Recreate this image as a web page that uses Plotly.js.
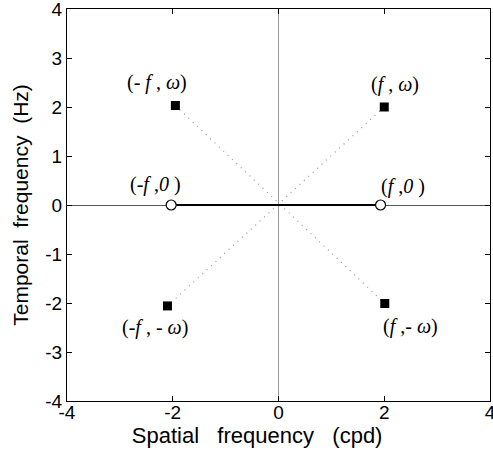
<!DOCTYPE html>
<html><head><meta charset="utf-8">
<script src="https://cdn.plot.ly/plotly-3.0.1.min.js"></script>
<style>body{margin:0;padding:0;background:#fff}#chart{width:493px;height:455px}</style>
</head><body><div id="chart"></div>
<script>
// Data
const squareX = [-1.95, 2.0, -2.1, 2.01];
const squareY = [2.03, 2.0, -2.06, -2.01];
const circleX = [-2.03, 1.93];
const circleY = [0, 0];
const diagA_X = [-1.95, 2.01];   // (-f,w) -> (f,-w)
const diagA_Y = [2.03, -2.01];
const diagB_X = [2.0, -2.1];     // (f,w) -> (-f,-w)
const diagB_Y = [2.0, -2.06];
const labelText = ['(- <i>f</i> , <i>ω</i>)', '(<i>f</i> , <i>ω</i>)', '(-<i>f</i> ,<i>0</i> )', '(<i>f</i> ,<i>0</i> )', '(-<i>f</i> , - <i>ω</i>)', '(<i>f</i> ,- <i>ω</i>)'];
const labelX = [-2.3, 2.2, -2.33, 2.35, -2.33, 2.5];
const labelY = [2.5, 2.46, 0.42, 0.38, -2.5, -2.48];
const xTicks = [-4, -2, 0, 2, 4];
const xTickText = ['-4', '-2', '0', '2', '4'];
const yTicks = [-4, -3, -2, -1, 0, 1, 2, 3, 4];
const yTickText = ['-4', '-3', '-2', '-1', '0', '1', '2', '3', '4'];

const traces = [
  {x: diagA_X, y: diagA_Y, mode: 'lines', line: {color: '#999', width: 1.2, dash: '1px,5px'}, hoverinfo: 'skip'},
  {x: diagB_X, y: diagB_Y, mode: 'lines', line: {color: '#999', width: 1.2, dash: '1px,5px'}, hoverinfo: 'skip'},
  {x: circleX, y: circleY, mode: 'lines', line: {color: '#000', width: 2.2}},
  {x: circleX, y: circleY, mode: 'markers', marker: {symbol: 'circle', size: 10, color: '#fff', line: {color: '#000', width: 1.2}}},
  {x: squareX, y: squareY, mode: 'markers', marker: {symbol: 'square', size: 9, color: '#000'}}
];

const annotations = labelText.map((t, i) => ({
  x: labelX[i], y: labelY[i], text: t, showarrow: false,
  font: {family: 'Liberation Serif, Times New Roman, serif', size: 20, color: '#000'}
}));

const axisCommon = {
  showgrid: false, zeroline: true, zerolinecolor: '#888', zerolinewidth: 1,
  showline: true, linecolor: '#000', linewidth: 1, mirror: 'ticks',
  ticks: 'inside', ticklen: 5, tickcolor: '#000', tickwidth: 1,
  ticklabeloverflow: 'allow',
  tickfont: {family: 'Liberation Sans, Arial, sans-serif', size: 19, color: '#000'}
};

const NB = '\u00a0';
const layout = {
  width: 493, height: 455,
  margin: {l: 67, r: 3, t: 9, b: 54},
  paper_bgcolor: '#fff', plot_bgcolor: '#fff',
  showlegend: false,
  xaxis: Object.assign({}, axisCommon, {range: [-4, 4], tickvals: xTicks, ticktext: xTickText, ticklabelstandoff: -6,
    zerolinewidth: 1.5, zerolinecolor: '#999',
    title: {text: 'Spatial' + NB + NB + ' frequency' + NB + NB + ' (cpd)' + NB.repeat(7) + '\u200b', standoff: 0, font: {family: 'Liberation Sans, Arial, sans-serif', size: 22, color: '#000'}}}),
  yaxis: Object.assign({}, axisCommon, {range: [-4, 4], tickvals: yTicks, ticktext: yTickText, zerolinecolor: '#555',
    title: {text: NB + NB + 'Temporal' + NB + ' frequency' + NB + ' (Hz)', standoff: 10, font: {family: 'Liberation Sans, Arial, sans-serif', size: 21, color: '#000'}}}),
  annotations: annotations
};

Plotly.newPlot('chart', traces, layout, {displayModeBar: false, staticPlot: true});
</script></body></html>
